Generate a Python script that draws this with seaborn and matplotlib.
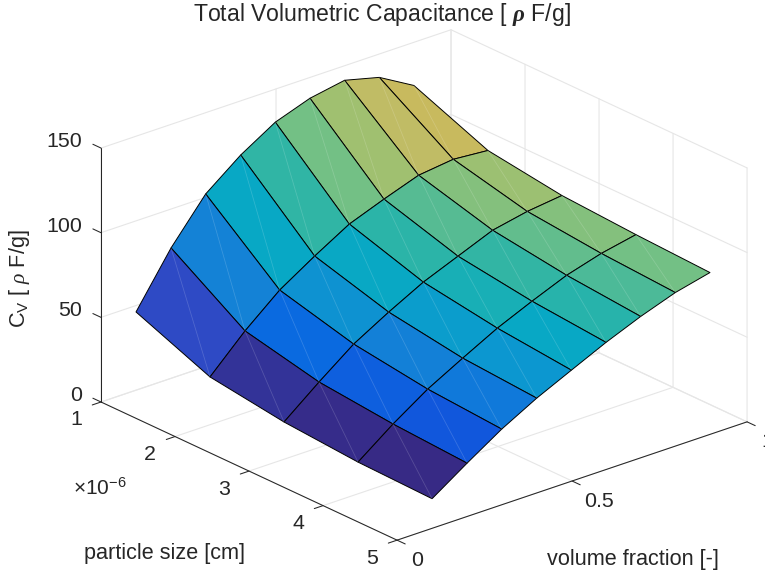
import matplotlib
matplotlib.use("Agg")
import matplotlib.pyplot as plt
import matplotlib.transforms as mtransforms
from matplotlib.colors import LinearSegmentedColormap, Normalize
import numpy as np
import seaborn as sns

# values
volume_fraction = [0.1, 0.2, 0.299, 0.399, 0.498, 0.597, 0.696, 0.795, 0.894]
particle_size = [1e-6, 2e-6, 3e-6, 4e-6, 5e-6]
cv_size1 = [46.2, 77.0, 102.0, 118.0, 130.5, 137.7, 141.4, 136.2, 124.5]
cv_size2 = [28.2, 48.4, 65.6, 78.7, 90.7, 98.5, 105.7, 108.2, 106.5]
cv_size3 = [22.0, 38.6, 54.1, 66.0, 76.8, 85.2, 93.6, 97.8, 100.3]
cv_size4 = [18.7, 34.2, 47.9, 59.2, 70.0, 79.0, 87.4, 93.4, 97.6]
cv_size5 = [17.5, 31.5, 44.7, 56.0, 65.6, 75.1, 83.5, 90.7, 95.6]

x_ticks = [0, 0.5, 1]
x_tick_labels = ["0", "0.5", "1"]
y_ticks = [1e-6, 2e-6, 3e-6, 4e-6, 5e-6]
y_tick_labels = ["1", "2", "3", "4", "5"]
z_ticks = [0, 50, 100, 150]
z_tick_labels = ["0", "50", "100", "150"]

# colour of a face against the value that picks it
color_values = [17.5, 22.0, 28.2, 31.5, 38.6, 48.4, 56.0, 65.6, 72.0, 78.7, 90.7, 98.5, 105.7, 108.2]
color_stops = ["#372A85", "#333399", "#2E4AC5", "#1058DD", "#0A6AE0", "#1482D6", "#0C97D0",
               "#08A8C5", "#1FB2B0", "#30B5A5", "#73C085", "#A0C070", "#C0BC65", "#C8BA5E"]

sns.set_theme(style="white")
plt.rcParams["font.family"] = ["Liberation Sans", "DejaVu Sans"]
plt.rcParams["mathtext.fontset"] = "custom"
plt.rcParams["mathtext.rm"] = "Liberation Sans"
plt.rcParams["mathtext.it"] = "Liberation Serif:italic"
plt.rcParams["mathtext.bf"] = "Liberation Sans:bold"
plt.rcParams["mathtext.bfit"] = "Liberation Serif:italic:bold"

TEXT = "#262626"
GRID = "#E6E6E6"
W, H = 765, 576

fig = plt.figure(figsize=(W / 100, H / 100), dpi=100, facecolor="white")
S = 684
ax = fig.add_axes([72.8 / W, -60.2 / H, S / W, S / H], projection="3d", computed_zorder=False)
ax.set_proj_type("ortho")
ax.set_box_aspect((459.6, 456.8, 276.7))
ax.view_init(elev=23.4, azim=229.6)
ax.set_xlim(0, 1)
ax.set_ylim(5e-6, 1e-6)
ax.set_zlim(0, 150)
ax.set_axis_off()
ax.patch.set_alpha(0)

X, Y = np.meshgrid(volume_fraction, particle_size)
Z = np.array([cv_size1, cv_size2, cv_size3, cv_size4, cv_size5])

# each face takes the value of its corner at the lower fraction, larger size
low, high = color_values[0], color_values[-1]
cmap = LinearSegmentedColormap.from_list(
    "cv", [((v - low) / (high - low), c) for v, c in zip(color_values, color_stops)])
norm = Normalize(low, high)
face_values = np.vstack([Z[1:], Z[-1:]])
facecolors = cmap(norm(face_values))

# walls and floor
x0, x1, y0, y1, z0, z1 = 0, 1, 1e-6, 5e-6, 0, 150
grid_kw = dict(color=GRID, lw=0.8, zorder=1)
for zt in z_ticks:
    ax.plot([x0, x1, x1], [y0, y0, y1], [zt, zt, zt], **grid_kw)
for xt in x_ticks:
    ax.plot([xt, xt, xt], [y1, y0, y0], [z0, z0, z1], **grid_kw)
for yt in y_ticks:
    ax.plot([x0, x1, x1], [yt, yt, yt], [z0, z0, z1], **grid_kw)

ax.plot_surface(X, Y, Z, facecolors=facecolors, shade=False, rstride=1, cstride=1,
                edgecolor="black", linewidth=0.7, antialiased=True, zorder=2)

# faint diagonal in each face
for j in range(len(particle_size) - 1):
    for i in range(len(volume_fraction) - 1):
        ax.plot([X[j, i + 1], X[j + 1, i]], [Y[j, i + 1], Y[j + 1, i]], [Z[j, i + 1], Z[j + 1, i]],
                color="white", alpha=0.16, lw=0.6, zorder=3)

# axis lines and ticks
axis_kw = dict(color=TEXT, lw=0.75, zorder=4)
ax.plot([x0, x0], [y0, y1], [z0, z0], **axis_kw)
ax.plot([x0, x1], [y1, y1], [z0, z0], **axis_kw)
ax.plot([x0, x0], [y0, y0], [z0, z1], **axis_kw)
for zt in z_ticks:
    ax.plot([x0, x0], [y0, y0 - 0.11e-6], [zt, zt], **axis_kw)
for yt in y_ticks:
    ax.plot([x0, x0 - 0.025], [yt, yt], [z0, z0], **axis_kw)
for xt in x_ticks:
    ax.plot([xt, xt], [y1, y1 + 0.11e-6], [z0, z0], **axis_kw)


def tick_text(x, y, z, s, dx, dy, ha="center"):
    trans = mtransforms.offset_copy(ax.transData, fig=fig, x=dx, y=dy, units="dots")
    ax.text(x, y, z, s, transform=trans, ha=ha, va="center", fontsize=15.4, color=TEXT, zorder=5)


for zt, lab in zip(z_ticks, z_tick_labels):
    tick_text(x0, y0, zt, lab, -19, 6.5, ha="right")
for yt, lab in zip(y_ticks, y_tick_labels):
    tick_text(x0, yt, z0, lab, -25, -18)
for xt, lab in zip(x_ticks, x_tick_labels):
    tick_text(xt, y1, z0, lab, 27 if xt == 0.5 else 20, -20)

fig.text(381.5 / W, 1 - 15 / H, "Total Volumetric Capacitance [ $\\mathbfit{\\rho}$ F/g]",
         ha="center", va="center", fontsize=16.6, color=TEXT)
fig.text(20 / W, 1 - 279 / H, "C$_{\\mathrm{V}}$ [ $\\rho$ F/g]", rotation=90,
         ha="center", va="center", fontsize=15.6, color=TEXT)
fig.text(164 / W, 1 - 554 / H, "particle size [cm]", ha="center", va="center", fontsize=15.6, color=TEXT)
fig.text(633 / W, 1 - 559 / H, "volume fraction [-]", ha="center", va="center", fontsize=15.6, color=TEXT)
fig.text(100 / W, 1 - 488 / H, "\u00d710$^{\\mathrm{-6}}$", ha="center", va="center", fontsize=15, color=TEXT)

fig.savefig("out.png", dpi=100)
